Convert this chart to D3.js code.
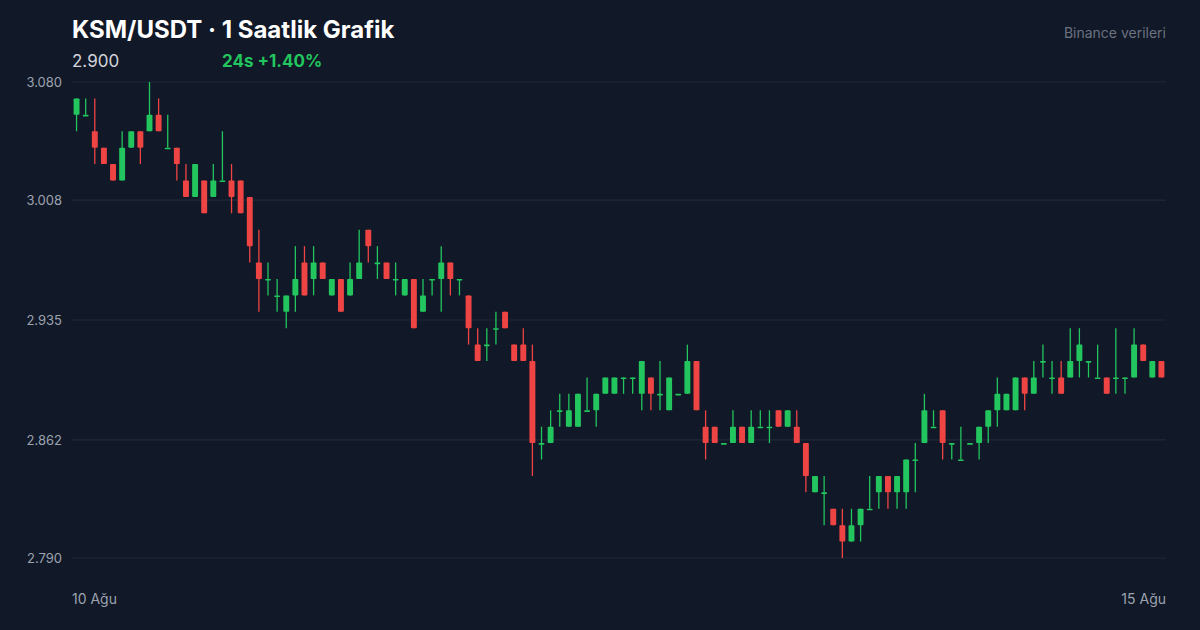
<!DOCTYPE html>
<html><head><meta charset="utf-8">
<script src="https://cdn.jsdelivr.net/npm/d3@7"></script>
<style>body{margin:0;background:#111827;}svg{display:block;font-family:Inter,"Noto Sans",sans-serif;}</style>
</head><body><svg id="c" width="1200" height="630"></svg>
<script>
const opens = [3.06,3.06,3.05,3.04,3.03,3.02,3.04,3.05,3.05,3.06,3.04,3.04,3.02,3.01,3.02,3.01,3.02,3.02,3.02,3.01,
2.97,2.96,2.95,2.94,2.95,2.97,2.96,2.97,2.95,2.96,2.95,2.96,2.99,2.97,2.97,2.96,2.95,2.96,2.94,2.96,
2.96,2.97,2.96,2.95,2.92,2.92,2.93,2.94,2.92,2.92,2.91,2.86,2.86,2.88,2.87,2.87,2.88,2.88,2.89,2.89,
2.90,2.90,2.89,2.90,2.89,2.88,2.89,2.89,2.91,2.87,2.87,2.86,2.86,2.87,2.86,2.87,2.87,2.88,2.87,2.87,
2.86,2.83,2.83,2.82,2.81,2.80,2.81,2.82,2.83,2.84,2.83,2.83,2.85,2.86,2.87,2.88,2.86,2.85,2.86,2.86,
2.87,2.88,2.88,2.88,2.90,2.89,2.91,2.90,2.90,2.90,2.91,2.91,2.90,2.90,2.90,2.90,2.90,2.92,2.90,2.91];
const closes = [3.07,3.06,3.04,3.03,3.02,3.04,3.05,3.04,3.06,3.05,3.04,3.03,3.01,3.03,3.00,3.02,3.02,3.01,3.00,2.98,
2.96,2.96,2.95,2.95,2.96,2.95,2.97,2.96,2.96,2.94,2.96,2.97,2.98,2.97,2.96,2.96,2.96,2.93,2.95,2.96,
2.97,2.96,2.96,2.93,2.91,2.92,2.93,2.93,2.91,2.91,2.86,2.86,2.87,2.88,2.88,2.89,2.88,2.89,2.90,2.90,
2.90,2.90,2.91,2.89,2.89,2.90,2.89,2.91,2.88,2.86,2.86,2.86,2.87,2.86,2.87,2.87,2.87,2.87,2.88,2.86,
2.84,2.84,2.83,2.81,2.80,2.81,2.82,2.82,2.84,2.83,2.84,2.85,2.85,2.88,2.87,2.86,2.86,2.85,2.86,2.87,
2.88,2.89,2.89,2.90,2.89,2.90,2.91,2.90,2.89,2.91,2.92,2.91,2.90,2.89,2.90,2.90,2.92,2.91,2.91,2.90];
const highs = [3.07,3.07,3.07,3.04,3.03,3.05,3.05,3.05,3.08,3.07,3.06,3.04,3.03,3.03,3.02,3.03,3.05,3.03,3.02,3.01,
2.99,2.97,2.96,2.95,2.98,2.98,2.98,2.97,2.96,2.96,2.97,2.99,2.99,2.98,2.97,2.97,2.96,2.96,2.96,2.96,
2.98,2.97,2.96,2.95,2.93,2.93,2.94,2.94,2.92,2.93,2.92,2.87,2.88,2.89,2.89,2.89,2.90,2.89,2.90,2.90,
2.90,2.90,2.91,2.90,2.91,2.90,2.89,2.92,2.91,2.88,2.87,2.86,2.88,2.87,2.88,2.88,2.88,2.88,2.88,2.88,
2.86,2.84,2.84,2.82,2.82,2.82,2.82,2.84,2.84,2.84,2.84,2.85,2.86,2.89,2.88,2.88,2.86,2.87,2.86,2.87,
2.88,2.90,2.89,2.90,2.90,2.91,2.92,2.91,2.91,2.93,2.93,2.91,2.92,2.90,2.93,2.90,2.93,2.92,2.91,2.91];
const lows = [3.05,3.06,3.03,3.03,3.02,3.02,3.04,3.03,3.05,3.05,3.04,3.02,3.01,3.01,3.00,3.01,3.02,3.00,3.00,2.97,
2.94,2.95,2.94,2.93,2.94,2.95,2.95,2.96,2.95,2.94,2.95,2.96,2.97,2.96,2.96,2.95,2.95,2.93,2.94,2.95,
2.94,2.95,2.95,2.92,2.91,2.91,2.92,2.93,2.91,2.91,2.84,2.85,2.86,2.87,2.87,2.87,2.88,2.87,2.89,2.89,
2.89,2.89,2.88,2.88,2.88,2.88,2.89,2.89,2.88,2.85,2.86,2.86,2.86,2.86,2.86,2.87,2.86,2.87,2.87,2.86,
2.83,2.83,2.81,2.81,2.79,2.80,2.80,2.82,2.82,2.82,2.82,2.82,2.83,2.86,2.87,2.85,2.85,2.85,2.86,2.85,
2.86,2.87,2.88,2.88,2.88,2.89,2.90,2.89,2.89,2.90,2.90,2.90,2.90,2.89,2.89,2.89,2.90,2.91,2.90,2.90];
const yTicks = [3.080, 3.008, 2.935, 2.862, 2.790];
const xLabels = ["10 Ağu", "15 Ağu"];

const svg = d3.select("#c");
const W=1200, L=72, R=1166, T=82, B=558;
const green="#22c55e", red="#ef4444";
const idx = d3.range(opens.length);
const x = d3.scaleBand().domain(idx).range([L,R]).paddingInner(0.35).paddingOuter(0.175);
const y = d3.scaleLinear().domain([2.790,3.080]).range([B,T]);

svg.append("g").selectAll("line").data(yTicks).join("line")
 .attr("x1",L).attr("x2",R).attr("y1",d=>y(d)).attr("y2",d=>y(d))
 .attr("stroke","#1f2937").attr("stroke-width",1.2);
svg.append("g").selectAll("text").data(yTicks).join("text")
 .attr("x",62).attr("y",d=>y(d)+5).attr("text-anchor","end")
 .attr("fill","#9ca3af").attr("font-size",13).text(d=>d.toFixed(3));

const g = svg.append("g");
idx.forEach(i=>{
  const col = closes[i]>=opens[i]?green:red;
  const cx = x(i)+x.bandwidth()/2;
  g.append("line").attr("x1",cx).attr("x2",cx).attr("y1",y(highs[i])).attr("y2",y(lows[i]))
   .attr("stroke",col).attr("stroke-width",1.3);
  const top=y(Math.max(opens[i],closes[i])), bot=y(Math.min(opens[i],closes[i]));
  g.append("rect").attr("x",x(i)).attr("width",x.bandwidth())
   .attr("y",top).attr("height",Math.max(bot-top,1.6)).attr("fill",col).attr("rx",0.8);
});

svg.append("text").attr("x",L).attr("y",604).attr("fill","#9ca3af").attr("font-size",14).text(xLabels[0]);
svg.append("text").attr("x",R).attr("y",604).attr("text-anchor","end").attr("fill","#9ca3af").attr("font-size",14).text(xLabels[1]);

svg.append("text").attr("x",72).attr("y",38).attr("fill","#ffffff").attr("font-size",24).attr("font-weight",700).text("KSM/USDT · 1 Saatlik Grafik");
svg.append("text").attr("x",72).attr("y",67).attr("fill","#d1d5db").attr("font-size",17).text(closes[closes.length-1].toFixed(3));
svg.append("text").attr("x",222).attr("y",67).attr("fill",green).attr("font-size",17).attr("font-weight",700).text("24s +1.40%");
svg.append("text").attr("x",1166).attr("y",38).attr("text-anchor","end").attr("fill","#6b7280").attr("font-size",14).text("Binance verileri");
</script></body></html>
